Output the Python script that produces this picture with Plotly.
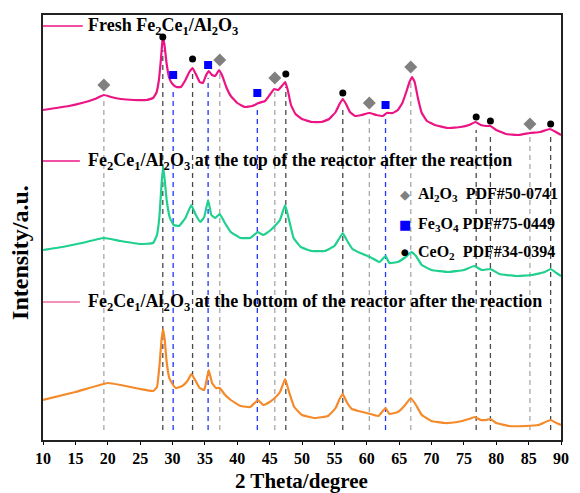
import plotly.graph_objects as go

# ---------------- data (2theta in degree, intensity in a.u.) ----------------
fresh_x = [10, 12, 14, 16, 18, 19.4, 20.5, 22, 24, 26, 27, 27.5, 27.9, 28.2, 28.45, 28.6, 28.8, 29.1,
           29.5, 30.0, 30.6, 31.3, 32.0, 32.6, 33.1, 33.6, 34.2, 34.7, 35.2, 35.6, 36.1, 36.6, 37.2,
           37.7, 38.3, 39.0, 40.0, 41.2, 42.3, 43.3, 44.3, 45.0, 45.7, 46.3, 46.9, 47.4, 47.8, 48.3,
           49.0, 50.0, 51.5, 53.0, 54.2, 55.2, 55.8, 56.3, 56.8, 57.4, 58.2, 59.2, 60.4, 61.5, 62.5,
           63.1, 64.0, 64.8, 65.5, 66.1, 66.6, 67.0, 67.4, 67.9, 68.5, 69.3, 70.5, 72.5, 74.5, 75.8,
           76.8, 77.6, 78.4, 79.1, 80.0, 81.5, 83.5, 85.2, 86.8, 88.3, 89.2, 90]
fresh_y = [330, 332, 334, 337, 341, 345, 343, 341, 340, 340, 342, 347, 360, 380, 399, 402, 393, 376,
           362, 356, 353, 353, 360, 368, 372, 366, 358, 357, 365, 369, 365, 364, 370,
           364, 353, 344, 337, 333, 334, 337, 339, 345, 351, 350, 354, 358, 350, 335,
           326, 321, 318, 318, 321, 328, 336, 341, 336, 328, 324, 325, 327, 325, 324,
           327, 327, 330, 337, 348, 358, 363, 358, 342, 327, 319, 315, 312, 313, 315,
           318, 315, 314, 314, 310, 306, 305, 307, 308, 311, 308, 305]

top_x = [10, 13, 16, 19.4, 22, 25, 27, 27.6, 28.0, 28.3, 28.55, 28.8, 29.1, 29.6, 30.2, 31.0, 32.0,
         32.9, 33.6, 34.3, 34.9, 35.5, 36.0, 36.6, 37.3, 38.0, 39.0, 40.5, 42.0, 43.2, 44.0, 45.0,
         45.8, 46.6, 47.4, 48.0, 48.7, 49.8, 51.5, 53.5, 55.0, 55.8, 56.3, 56.9, 57.8, 59.0, 60.5,
         62.0, 62.9, 63.5, 64.8, 66.0, 66.9, 67.6, 68.5, 70.0, 72.5, 75.0, 76.6, 77.8, 79.1, 80.5,
         83.0, 85.5, 87.5, 88.4, 89.3, 90]
top_y = [190, 193, 197, 202, 199, 196, 197, 205, 225, 255, 274, 260, 240, 222, 215, 214, 222,
         235, 225, 218, 223, 240, 225, 222, 226, 218, 208, 202, 202, 208, 205, 209,
         214, 220, 235, 220, 202, 193, 189, 189, 194, 202, 207, 200, 191, 187, 183,
         178, 184, 177, 178, 183, 188, 184, 175, 170, 168, 170, 174, 170, 171, 166,
         164, 165, 168, 171, 167, 164]

bottom_x = [10, 15, 20, 22, 25, 27, 27.6, 28.0, 28.3, 28.55, 28.8, 29.1, 29.5, 30.0, 30.5, 31.5,
            32.3, 32.9, 33.5, 34.2, 34.9, 35.6, 36.1, 36.7, 37.3, 38.0, 39.0, 40.5, 42.0, 43.2,
            44.0, 45.0, 45.8, 46.6, 47.4, 48.0, 48.8, 50.0, 52.0, 54.0, 55.2, 55.8, 56.3, 56.9,
            57.7, 58.7, 60.0, 61.8, 62.9, 63.5, 64.8, 65.8, 66.8, 67.6, 68.5, 70.0, 72.0, 74.0,
            75.8, 76.7, 77.6, 78.4, 79.1, 80.0, 82.0, 84.5, 86.5, 88.4, 89.3, 90]
bottom_y = [40, 48, 57, 55, 51, 49, 53, 75, 100, 111, 100, 78, 62, 56, 52, 54,
            59, 66, 60, 52, 50, 70, 57, 52, 52, 46, 40, 34, 33, 40,
            35, 38, 42, 48, 61, 48, 33, 25, 22, 24, 32, 41, 46, 38,
            31, 29, 27, 24, 32, 26, 28, 34, 42, 35, 25, 19, 17, 18,
            21, 23, 20, 20, 21, 17, 14, 14, 15, 20, 17, 15]

# reference phase positions and marker heights (above the fresh pattern)
al2o3_pos = [19.4, 37.3, 45.8, 60.4, 66.8, 85.2]
al2o3_mark = [355, 380, 362, 337, 373, 316]
fe3o4_pos = [30.1, 35.5, 43.1, 62.9]
fe3o4_mark = [365, 375, 347, 335]
ceo2_pos = [28.5, 33.1, 47.5, 56.3, 76.9, 79.1, 88.4]
ceo2_mark = [403, 381, 366, 347, 323, 319, 316]

x_ticks = [10, 15, 20, 25, 30, 35, 40, 45, 50, 55, 60, 65, 70, 75, 80, 85, 90]

# ---------------- styling ----------------
W, H = 580, 493
ML, MR, MT, MB = 42.5, 10.5, 15, 53
PW, PH = W - ML - MR, H - MT - MB
SERIF = "Liberation Serif"
C_FRESH, C_TOP, C_BOT = "#EC1484", "#1FD08E", "#F58A2A"

def px(x):
    return (x - ML) / PW

def py(y):
    return (H - MB - y) / PH

fig = go.Figure()

for xs, ys, c in [(fresh_x, fresh_y, C_FRESH), (top_x, top_y, C_TOP), (bottom_x, bottom_y, C_BOT)]:
    fig.add_trace(go.Scatter(x=xs, y=ys, mode="lines", line=dict(color=c, width=2.2, shape="spline", smoothing=0.3),
                             showlegend=False, hoverinfo="skip"))

shapes = []
for pos, mk, col in [(al2o3_pos, al2o3_mark, "#A8A8A8"), (fe3o4_pos, fe3o4_mark, "#2035FF"),
                     (ceo2_pos, ceo2_mark, "#4A4A4A")]:
    for p, m in zip(pos, mk):
        shapes.append(dict(type="line", xref="x", yref="y", x0=p, x1=p, y0=10, y1=m - 13, layer="below",
                           line=dict(color=col, width=1.3, dash="5px,4px")))

fig.add_trace(go.Scatter(x=al2o3_pos, y=al2o3_mark, mode="markers", showlegend=False, hoverinfo="skip",
                         marker=dict(symbol="diamond", size=10, color="#808080")))
fig.add_trace(go.Scatter(x=fe3o4_pos, y=fe3o4_mark, mode="markers", showlegend=False, hoverinfo="skip",
                         marker=dict(symbol="square", size=8, color="#0000FF")))
fig.add_trace(go.Scatter(x=ceo2_pos, y=ceo2_mark, mode="markers", showlegend=False, hoverinfo="skip",
                         marker=dict(symbol="circle", size=7, color="#000000")))

# curve legends (line key + text)
label_fe = "Fe<sub>2</sub>Ce<sub>1</sub>/Al<sub>2</sub>O<sub>3</sub>"
curve_labels = [("Fresh " + label_fe, 26, C_FRESH, 83),
                (label_fe + " at the top of the reactor after the reaction", 161, C_FRESH, 80),
                (label_fe + " at the bottom of the reactor after the reaction", 302, "#F06AA5", 80)]
annotations = []
for txt, yy, col, xend in curve_labels:
    shapes.append(dict(type="line", xref="paper", yref="paper", x0=0, x1=px(xend), y0=py(yy), y1=py(yy),
                       line=dict(color=col, width=1.5)))
    annotations.append(dict(xref="paper", yref="paper", x=px(86), y=py(yy), xanchor="left", yanchor="middle",
                            text="<b>" + txt + "</b>", showarrow=False,
                            font=dict(family=SERIF, size=18, color="#000000")))

# phase legend
phase_items = [("◆", "#808080", 13, "Al<sub>2</sub>O<sub>3</sub>  PDF#50-0741", 194),
               ("■", "#0000FF", 13, "Fe<sub>3</sub>O<sub>4</sub> PDF#75-0449", 224),
               ("●", "#000000", 9, "CeO<sub>2</sub>  PDF#34-0394", 252)]
for sym, col, sz, txt, yy in phase_items:
    annotations.append(dict(xref="paper", yref="paper", x=px(411), y=py(yy), xanchor="center", yanchor="middle",
                            text=sym, showarrow=False, font=dict(family="DejaVu Sans", size=sz, color=col)))
    annotations.append(dict(xref="paper", yref="paper", x=px(422), y=py(yy), xanchor="left", yanchor="middle",
                            text="<b>" + txt + "</b>", showarrow=False,
                            font=dict(family=SERIF, size=16, color="#000000")))

# axis titles
annotations.append(dict(xref="paper", yref="paper", x=px(305), y=py(481), xanchor="center", yanchor="middle",
                        text="<b>2 Theta/degree</b>", showarrow=False,
                        font=dict(family=SERIF, size=21, color="#000000")))
annotations.append(dict(xref="paper", yref="paper", x=px(19), y=py(252), xanchor="center", yanchor="middle",
                        text="<b>Intensity/a.u.</b>", showarrow=False, textangle=-90,
                        font=dict(family=SERIF, size=24, color="#000000")))

fig.update_layout(
    width=W, height=H, margin=dict(l=ML, r=MR, t=MT, b=MB),
    paper_bgcolor="white", plot_bgcolor="white",
    shapes=shapes, annotations=annotations,
    xaxis=dict(range=[10, 90], tickvals=x_ticks, ticktext=[str(t) for t in x_ticks],
               ticks="outside", ticklen=3, tickwidth=1.3, tickcolor="#000",
               showgrid=False, zeroline=False, showline=True, linecolor="#222", linewidth=1.8, mirror=True,
               tickfont=dict(family=SERIF, size=16, color="#000", weight="bold")),
    yaxis=dict(range=[0, 425], showticklabels=False, ticks="", showgrid=False, zeroline=False,
               showline=True, linecolor="#222", linewidth=1.8, mirror=True),
)

fig.write_html("out.html")
